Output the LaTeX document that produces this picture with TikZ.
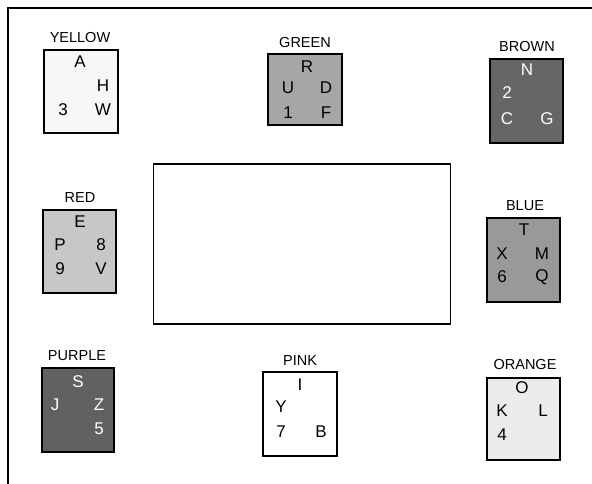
\documentclass[tikz,border=0pt]{standalone}
\usepackage{fontspec}
\setmainfont{Liberation Sans}

\begin{document}
\begin{tikzpicture}[x=1pt,y=-1pt,
    card/.style={draw,line width=1.4pt,inner sep=0pt,minimum width=74pt,minimum height=83pt},
    lbl/.style={font=\fontsize{14.5}{14.5}\selectfont},
    let/.style={font=\fontsize{17}{17}\selectfont,inner sep=0pt},
    wlet/.style={let,text=white}]
        \useasboundingbox (0,0) rectangle (592,484);
        \coordinate (tl) at (8,8);
        \coordinate (tr) at (592,8);
        \coordinate (bl) at (8,484);
        \draw[line width=1.8pt] (bl) -- (tl) -- (tr);
        % middle board
        \node[draw,line width=1.2pt,minimum width=297pt,minimum height=160pt] (board) at (302,244) {};
        % yellow
        \node[card,fill=black!3] (yellow) at (81,91.5) {};
        \node[lbl] (yellowlbl) at (80,38) {YELLOW};
        \node[let] (yA) at (80,62) {A};
        \node[let] (yH) at (103,86) {H};
        \node[let] (y3) at (63,110) {3};
        \node[let] (yW) at (103,110) {W};
        % green
        \node[card,fill=black!35,minimum height=71pt] (green) at (305,89.5) {};
        \node[lbl] (greenlbl) at (305,43) {GREEN};
        \node[let] (gR) at (307,67) {R};
        \node[let] (gU) at (288,88) {U};
        \node[let] (gD) at (326,88) {D};
        \node[let] (g1) at (288,113) {1};
        \node[let] (gF) at (326,113) {F};
        % brown
        \node[card,fill=black!60,minimum width=73pt,minimum height=84pt] (brown) at (526.5,101) {};
        \node[lbl] (brownlbl) at (527,47) {BROWN};
        \node[wlet] (bN) at (527,70) {N};
        \node[wlet] (b2) at (507,93) {2};
        \node[wlet] (bC) at (507,119) {C};
        \node[wlet] (bG) at (547,119) {G};
        % red
        \node[card,fill=black!22,minimum width=73pt] (red) at (79.5,251.5) {};
        \node[lbl] (redlbl) at (80,198) {RED};
        \node[let] (rE) at (80,222) {E};
        \node[let] (rP) at (60,245) {P};
        \node[let] (r8) at (101,245) {8};
        \node[let] (r9) at (60,269) {9};
        \node[let] (rV) at (101,269) {V};
        % blue
        \node[card,fill=black!40,minimum width=73pt,minimum height=84pt] (blue) at (523.5,260) {};
        \node[lbl] (bluelbl) at (525,206) {BLUE};
        \node[let] (uT) at (524,230) {T};
        \node[let] (uX) at (502,254) {X};
        \node[let] (uM) at (542,254) {M};
        \node[let] (u6) at (502,277) {6};
        \node[let] (uQ) at (542,277) {Q};
        % purple
        \node[card,fill=black!62,minimum width=72pt,minimum height=84pt] (purple) at (78,410) {};
        \node[lbl] (purplelbl) at (77,356) {PURPLE};
        \node[wlet] (pS) at (78,382) {S};
        \node[wlet] (pJ) at (55,405) {J};
        \node[wlet] (pZ) at (99,405) {Z};
        \node[wlet] (p5) at (99,429) {5};
        % pink
        \node[card,fill=white,minimum height=84pt] (pink) at (300,414) {};
        \node[lbl] (pinklbl) at (300,361) {PINK};
        \node[let] (kI) at (300,385) {I};
        \node[let] (kY) at (281,407) {Y};
        \node[let] (k7) at (281,432) {7};
        \node[let] (kB) at (321,432) {B};
        % orange
        \node[card,fill=black!8,minimum width=73pt,minimum height=82pt] (orange) at (523.5,419) {};
        \node[lbl] (orangelbl) at (525,365) {ORANGE};
        \node[let] (oO) at (522,388) {O};
        \node[let] (oK) at (502,411) {K};
        \node[let] (oL) at (543,411) {L};
        \node[let] (o4) at (502,435) {4};
\end{tikzpicture}
\end{document}
